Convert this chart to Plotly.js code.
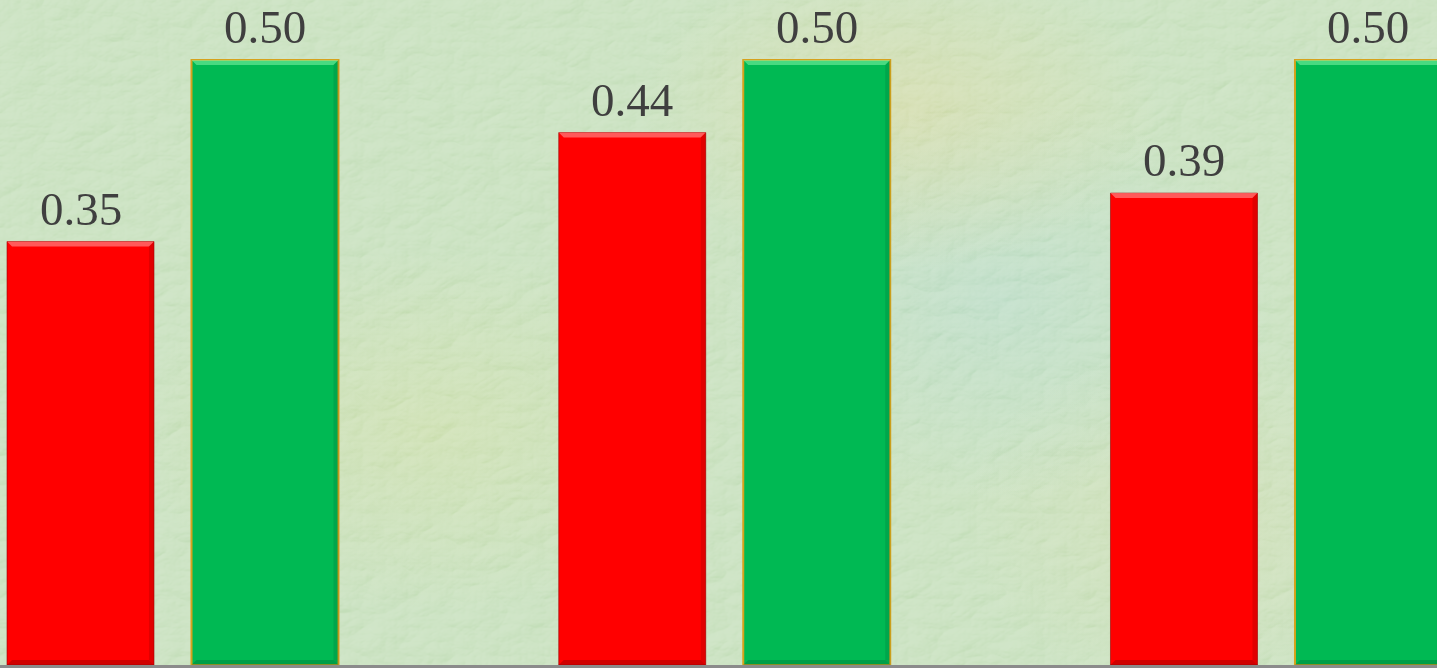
<!DOCTYPE html>
<html>
<head>
<meta charset="utf-8">
<script src="https://cdn.plot.ly/plotly-3.0.1.min.js"></script>
<style>
  html, body { margin: 0; padding: 0; width: 1437px; height: 668px; overflow: hidden; }
  body {
    background-color: #c0dcb5;
    background-image:
      radial-gradient(ellipse 260px 160px at 900px 110px, rgba(226, 210, 140, 0.40), rgba(226, 210, 140, 0) 100%),
      radial-gradient(ellipse 300px 180px at 430px 430px, rgba(212, 218, 140, 0.32), rgba(212, 218, 140, 0) 100%),
      radial-gradient(ellipse 280px 200px at 1000px 300px, rgba(160, 210, 215, 0.32), rgba(160, 210, 215, 0) 100%),
      radial-gradient(ellipse 240px 180px at 1200px 520px, rgba(222, 212, 150, 0.25), rgba(222, 212, 150, 0) 100%);
  }
  #texture { position: absolute; left: 0; top: 0; width: 1437px; height: 668px; mix-blend-mode: soft-light; opacity: 0.95; }
  #chart { position: absolute; left: 0; top: 0; width: 1437px; height: 668px; }
</style>
</head>
<body>
<svg id="texture" xmlns="http://www.w3.org/2000/svg" width="1437" height="668">
  <filter id="emboss" x="0" y="0" width="100%" height="100%">
    <feTurbulence type="turbulence" baseFrequency="0.022 0.035" numOctaves="4" seed="11" result="noise"/>
    <feDiffuseLighting in="noise" surfaceScale="2.8" lighting-color="#ffffff" diffuseConstant="0.62" result="lit">
      <feDistantLight azimuth="225" elevation="55"/>
    </feDiffuseLighting>
  </filter>
  <rect width="1437" height="668" filter="url(#emboss)"/>
</svg>
<div id="chart"></div>
<script>
// One red and one green bar for each of three groups
const groupIndex = [0, 1, 2];
const redValues = [0.35, 0.44, 0.39];
const greenValues = [0.50, 0.50, 0.50];

// Bar geometry in axis units (one group per unit)
const barOffset = 0.1672;
const barWidth = 0.2664;
const redX = groupIndex.map(i => i - barOffset);
const greenX = groupIndex.map(i => i + barOffset);

const labelFont = {
  family: 'Liberation Serif, Times New Roman, serif',
  size: 47,
  color: '#3f3f3f'
};

const traces = [
  {
    type: 'bar',
    x: redX,
    y: redValues,
    width: barWidth,
    marker: { color: '#ff0000', line: { color: 'rgba(150,0,0,0.6)', width: 1 } },
    hoverinfo: 'skip'
  },
  {
    type: 'bar',
    x: greenX,
    y: greenValues,
    width: barWidth,
    marker: { color: '#00b953', line: { color: '#d6a21c', width: 2 } },
    hoverinfo: 'skip'
  }
];

// Bevel facets on each bar, in data coordinates
const bevelX = 5 / 551.75;
const bevelY = 5 / 1210;
function bevelShapes(xs, ys, light, dark, side) {
  const shapes = [];
  xs.forEach((c, k) => {
    const t = ys[k];
    const l = c - barWidth / 2;
    const r = c + barWidth / 2;
    const base = { type: 'path', xref: 'x', yref: 'y', line: { width: 0 }, layer: 'above' };
    shapes.push(Object.assign({}, base, {
      path: `M${l},${t} L${r},${t} L${r - bevelX},${t - bevelY} L${l + bevelX},${t - bevelY} Z`,
      fillcolor: light
    }));
    shapes.push(Object.assign({}, base, {
      path: `M${l},0 L${r},0 L${r - bevelX},${bevelY} L${l + bevelX},${bevelY} Z`,
      fillcolor: dark
    }));
    shapes.push(Object.assign({}, base, {
      path: `M${r},${t} L${r},0 L${r - bevelX},${bevelY} L${r - bevelX},${t - bevelY} Z`,
      fillcolor: side
    }));
  });
  return shapes;
}

// Value labels above each bar
function valueLabels(xs, ys) {
  return xs.map((c, k) => ({
    x: c,
    y: ys[k],
    xref: 'x',
    yref: 'y',
    text: ys[k].toFixed(2),
    showarrow: false,
    yanchor: 'bottom',
    xanchor: 'center',
    yshift: 6,
    borderpad: 0,
    font: labelFont
  }));
}

const layout = {
  width: 1437,
  height: 668,
  margin: { l: 0, r: 0, t: 0, b: 3, pad: 0 },
  paper_bgcolor: 'rgba(0,0,0,0)',
  plot_bgcolor: 'rgba(0,0,0,0)',
  showlegend: false,
  barmode: 'overlay',
  xaxis: {
    range: [-0.3131, 2.2914],
    showticklabels: false,
    showgrid: false,
    zeroline: false,
    showline: true,
    linecolor: '#8b8b8b',
    linewidth: 3,
    ticks: ''
  },
  yaxis: {
    range: [0, 0.5496],
    showticklabels: false,
    showgrid: false,
    zeroline: false,
    showline: false,
    ticks: ''
  },
  shapes: [].concat(
    bevelShapes(redX, redValues, 'rgba(255,120,120,0.75)', 'rgba(150,0,0,0.45)', 'rgba(170,0,0,0.35)'),
    bevelShapes(greenX, greenValues, 'rgba(120,240,160,0.6)', 'rgba(0,110,50,0.35)', 'rgba(0,110,50,0.25)')
  ),
  annotations: [].concat(valueLabels(redX, redValues), valueLabels(greenX, greenValues))
};

Plotly.newPlot('chart', traces, layout, { staticPlot: true, displayModeBar: false });
</script>
</body>
</html>
